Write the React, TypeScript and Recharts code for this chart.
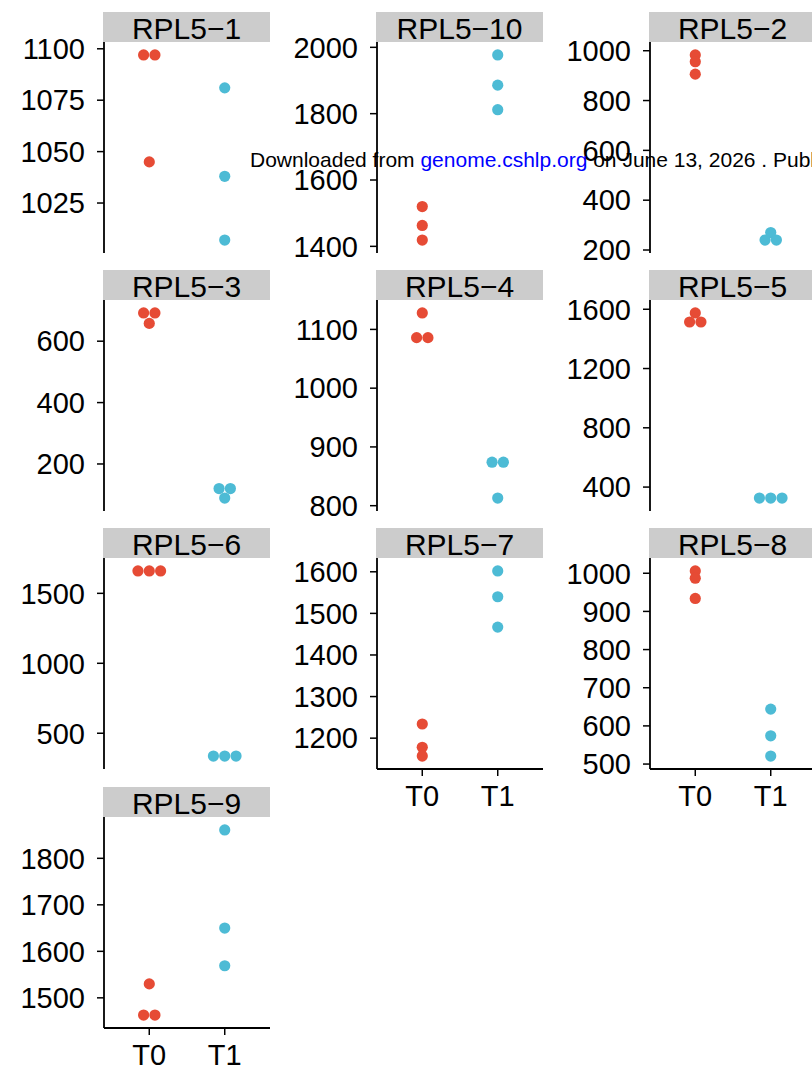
import React from "react";
import { ScatterChart, Scatter, XAxis, YAxis } from "recharts";

// facet order as in the figure (facet_wrap, 3 columns)
const genes = ["RPL5-1", "RPL5-10", "RPL5-2", "RPL5-3", "RPL5-4", "RPL5-5", "RPL5-6", "RPL5-7", "RPL5-8", "RPL5-9"];
const groups = ["T0", "T1"];

const t0Values = [
  [1097, 1097, 1045],
  [1520, 1463, 1419],
  [983, 956, 906],
  [692, 692, 658],
  [1128, 1086, 1086],
  [1575, 1514, 1514],
  [1660, 1660, 1660],
  [1234, 1178, 1157],
  [1006, 987, 934],
  [1530, 1463, 1463],
];

const t1Values = [
  [1081, 1038, 1007],
  [1977, 1886, 1812],
  [270, 240, 240],
  [120, 120, 89],
  [874, 874, 813],
  [326, 326, 326],
  [337, 337, 337],
  [1602, 1540, 1467],
  [644, 574, 521],
  [1861, 1650, 1569],
];

const yTicks = [
  [1025, 1050, 1075, 1100],
  [1400, 1600, 1800, 2000],
  [200, 400, 600, 800, 1000],
  [200, 400, 600],
  [800, 900, 1000, 1100],
  [400, 800, 1200, 1600],
  [500, 1000, 1500],
  [1200, 1300, 1400, 1500, 1600],
  [500, 600, 700, 800, 900, 1000],
  [1500, 1600, 1700, 1800],
];

const RED = "#E64B35";
const BLUE = "#4DBBD5";
const FONT = '"Liberation Sans", Arial, Helvetica, sans-serif';

const COL_X = [104, 377, 650];
const ROW_Y = [12, 270, 528, 787];
const STRIP_H = 30;
const PLOT_W = 166;
const PLOT_H = 211;
const Y_AXIS_W = 100;
const X_AXIS_H = 60;
const M = 20; // room so edge tick labels are not clipped
const DOT_R = 5.6;
const DODGE = 0.15; // horizontal spread for dots sharing a value (x units)

// dots with the same value are spread side by side, centred on the group
function toPoints(values: number[], groupIndex: number) {
  return values.map((v, i) => {
    const n = values.filter((u) => u === v).length;
    const rank = values.slice(0, i).filter((u) => u === v).length;
    return { x: groupIndex + 1 + (rank - (n - 1) / 2) * DODGE, y: v };
  });
}

const dot = (color: string) => (props: any) =>
  <circle cx={props.cx} cy={props.cy} r={DOT_R} fill={color} />;

const tickStyle = { fontSize: 29, fill: "#000", fontFamily: FONT };

function Panel({ index }: { index: number }) {
  const col = index % 3;
  const row = Math.floor(index / 3);
  const showX = index >= 7;
  const all = [...t0Values[index], ...t1Values[index]];
  const lo = Math.min(...all);
  const hi = Math.max(...all);
  const pad = (hi - lo) * 0.07;

  return (
    <div style={{ position: "absolute", left: COL_X[col] - Y_AXIS_W, top: ROW_Y[row] }}>
      <div style={{ position: "absolute", left: 0, top: STRIP_H - M }}>
        <ScatterChart
          width={Y_AXIS_W + PLOT_W}
          height={PLOT_H + M + (showX ? X_AXIS_H : M)}
          margin={{ top: M, right: 0, bottom: showX ? 0 : M, left: 0 }}
        >
          <XAxis
            type="number"
            dataKey="x"
            domain={[0.4, 2.6]}
            ticks={[1, 2]}
            interval={0}
            allowDataOverflow
            hide={!showX}
            height={X_AXIS_H}
            tickFormatter={(v: number) => groups[v - 1]}
            tick={tickStyle}
            tickSize={7}
            tickMargin={9}
            axisLine={{ stroke: "#000", strokeWidth: 1.8 }}
            tickLine={{ stroke: "#000", strokeWidth: 1.5 }}
          />
          <YAxis
            type="number"
            dataKey="y"
            domain={[lo - pad, hi + pad]}
            ticks={yTicks[index]}
            interval={0}
            allowDataOverflow
            width={Y_AXIS_W}
            tick={tickStyle}
            tickSize={7}
            tickMargin={12}
            axisLine={{ stroke: "#000", strokeWidth: 1.8 }}
            tickLine={{ stroke: "#000", strokeWidth: 1.5 }}
          />
          <Scatter data={toPoints(t0Values[index], 0)} fill={RED} shape={dot(RED)} isAnimationActive={false} />
          <Scatter data={toPoints(t1Values[index], 1)} fill={BLUE} shape={dot(BLUE)} isAnimationActive={false} />
        </ScatterChart>
      </div>
      <div
        style={{
          position: "absolute",
          left: Y_AXIS_W - 1,
          top: 0,
          width: PLOT_W + 1,
          height: STRIP_H,
          background: "#CCCCCC",
          textAlign: "center",
          fontSize: 30,
          lineHeight: "34px",
          fontFamily: FONT,
          color: "#000",
          whiteSpace: "nowrap",
        }}
      >
        {genes[index].replace("-", "\u2212")}
      </div>
    </div>
  );
}

export default function App() {
  return (
    <div
      style={{
        position: "absolute",
        left: 0,
        top: 0,
        width: 812,
        height: 1070,
        overflow: "hidden",
        background: "#fff",
      }}
    >
      {genes.map((g, i) => (
        <Panel key={g} index={i} />
      ))}
      {/* watermark from the source PDF */}
      <span
        style={{
          position: "absolute",
          left: 250,
          top: 149,
          fontSize: 21,
          lineHeight: "21px",
          fontFamily: FONT,
          color: "#000",
          whiteSpace: "nowrap",
          zIndex: 10,
        }}
      >
        Downloaded from <span style={{ color: "#0000FF" }}>genome.cshlp.org</span> on June 13, 2026 . Published by Cold Spring Harbor Laboratory Press
      </span>
    </div>
  );
}
